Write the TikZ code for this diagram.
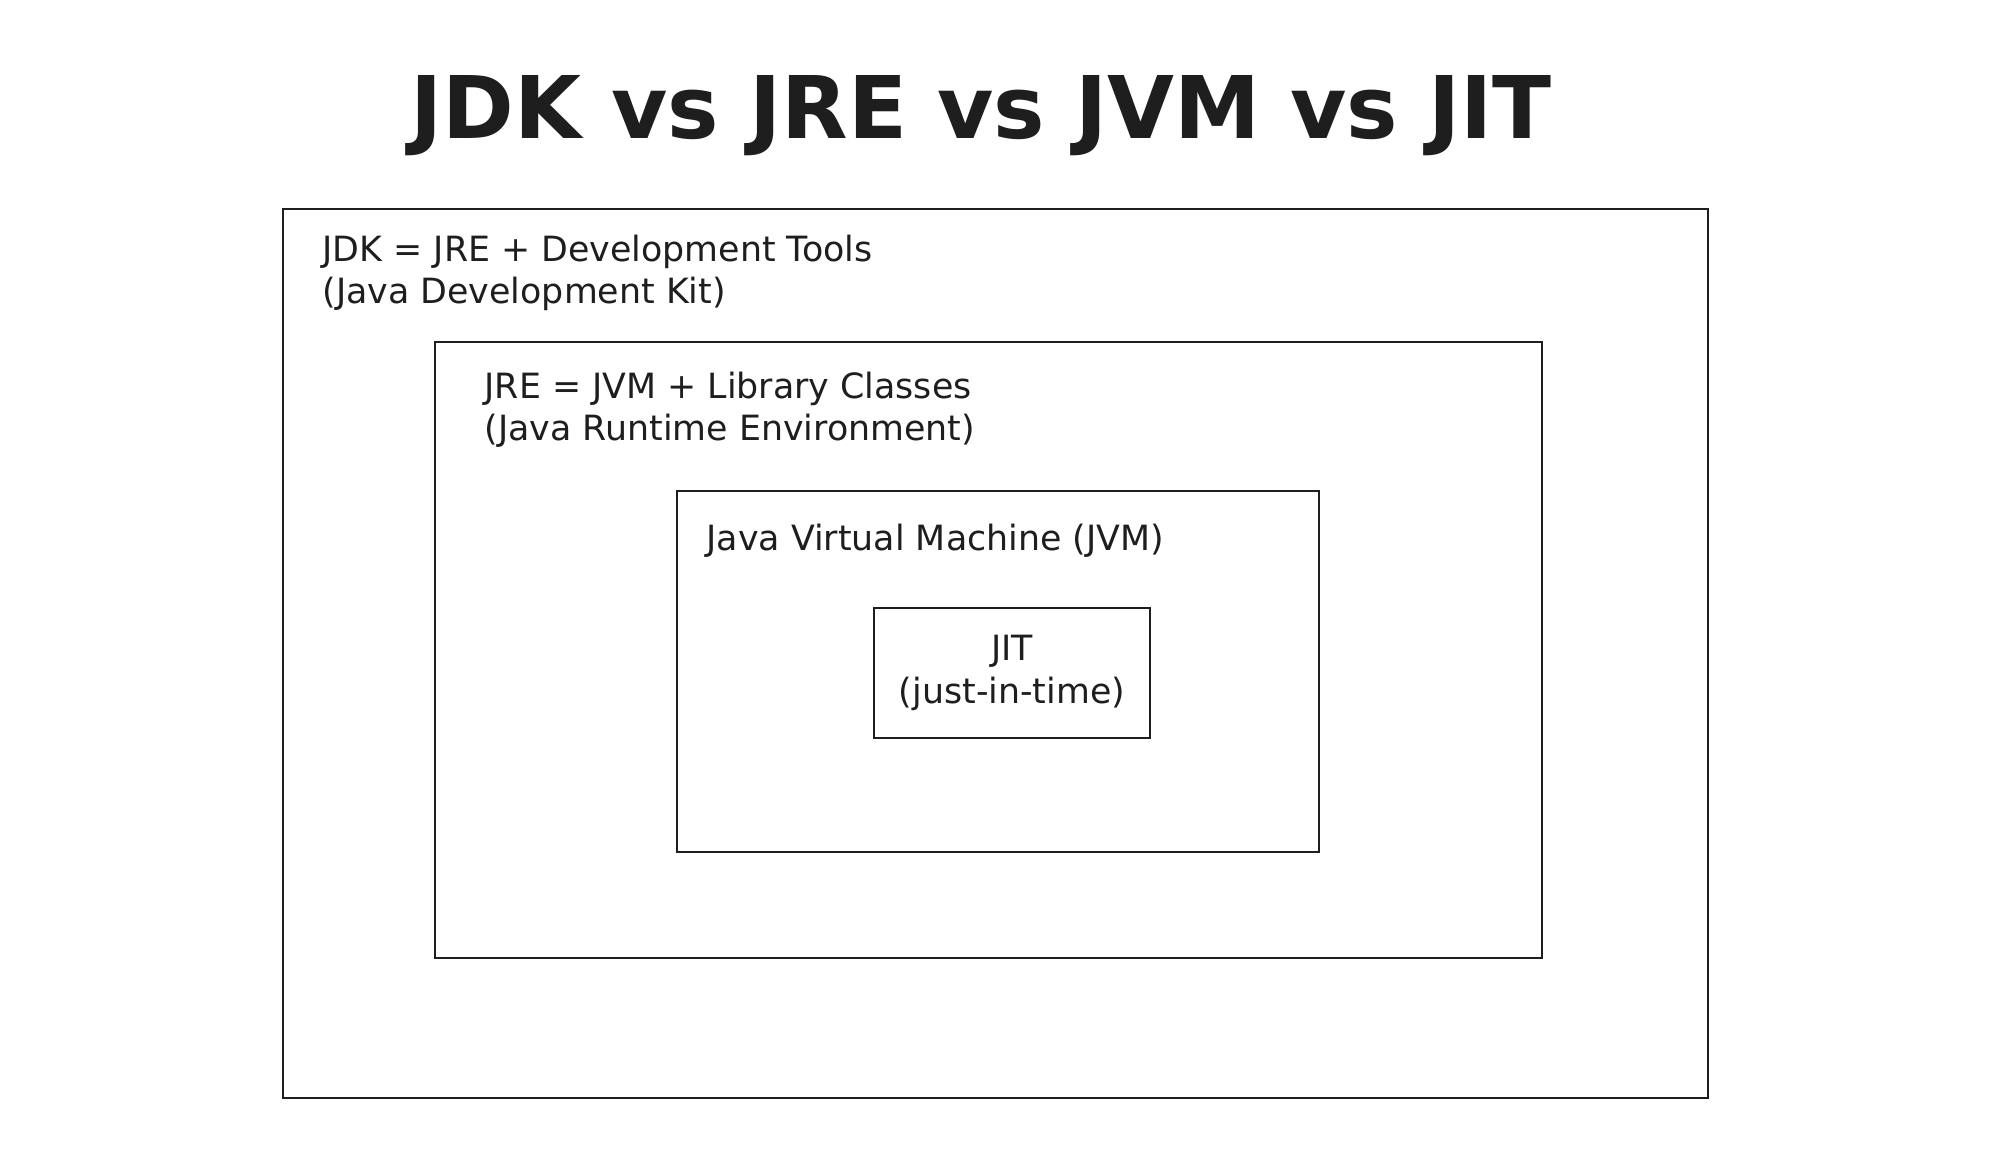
\documentclass[tikz,border=0pt]{standalone}
\usepackage{fontspec}
\setmainfont{DejaVu Sans}
\usepackage{xcolor}
\usetikzlibrary{positioning}
\definecolor{InkBlack}{HTML}{1E1E1E}

\begin{document}
\begin{tikzpicture}[
    box/.style={draw=InkBlack, line width=0.6pt, fill=white, inner sep=0pt},
    boxtext/.style={inner sep=0pt, align=left, anchor=north west, text=InkBlack, font=\fontsize{9.9}{12.2}\selectfont},
    title/.style={text=InkBlack, font=\fontsize{24.6}{28}\selectfont\bfseries}
]
    \useasboundingbox (0,0) rectangle (20,11.66);
    \node[title] (heading) at (9.81,10.50) {JDK vs JRE vs JVM vs JIT};

    \node[box, minimum width=14.25cm, minimum height=8.89cm] (jdk) at (9.955,5.125) {};
    \node[box, minimum width=11.07cm, minimum height=6.16cm] (jre) at (9.885,5.16) {};
    \node[box, minimum width=6.42cm, minimum height=3.61cm] (jvm) at (9.98,4.945) {};
    \node[box, minimum width=2.76cm, minimum height=1.30cm, align=center, text=InkBlack,
          font=\fontsize{9.9}{12.2}\selectfont] (jit) at (10.12,4.93) {JIT\\(just-in-time)};

    \node[boxtext, below right=0.26cm and 0.40cm of jdk.north west] (jdklabel)
        {JDK = JRE + Development Tools\\(Java Development Kit)};
    \node[boxtext, below right=0.30cm and 0.50cm of jre.north west] (jrelabel)
        {JRE = JVM + Library Classes\\(Java Runtime Environment)};
    \node[boxtext, below right=0.33cm and 0.30cm of jvm.north west] (jvmlabel)
        {Java Virtual Machine (JVM)};
\end{tikzpicture}
\end{document}
